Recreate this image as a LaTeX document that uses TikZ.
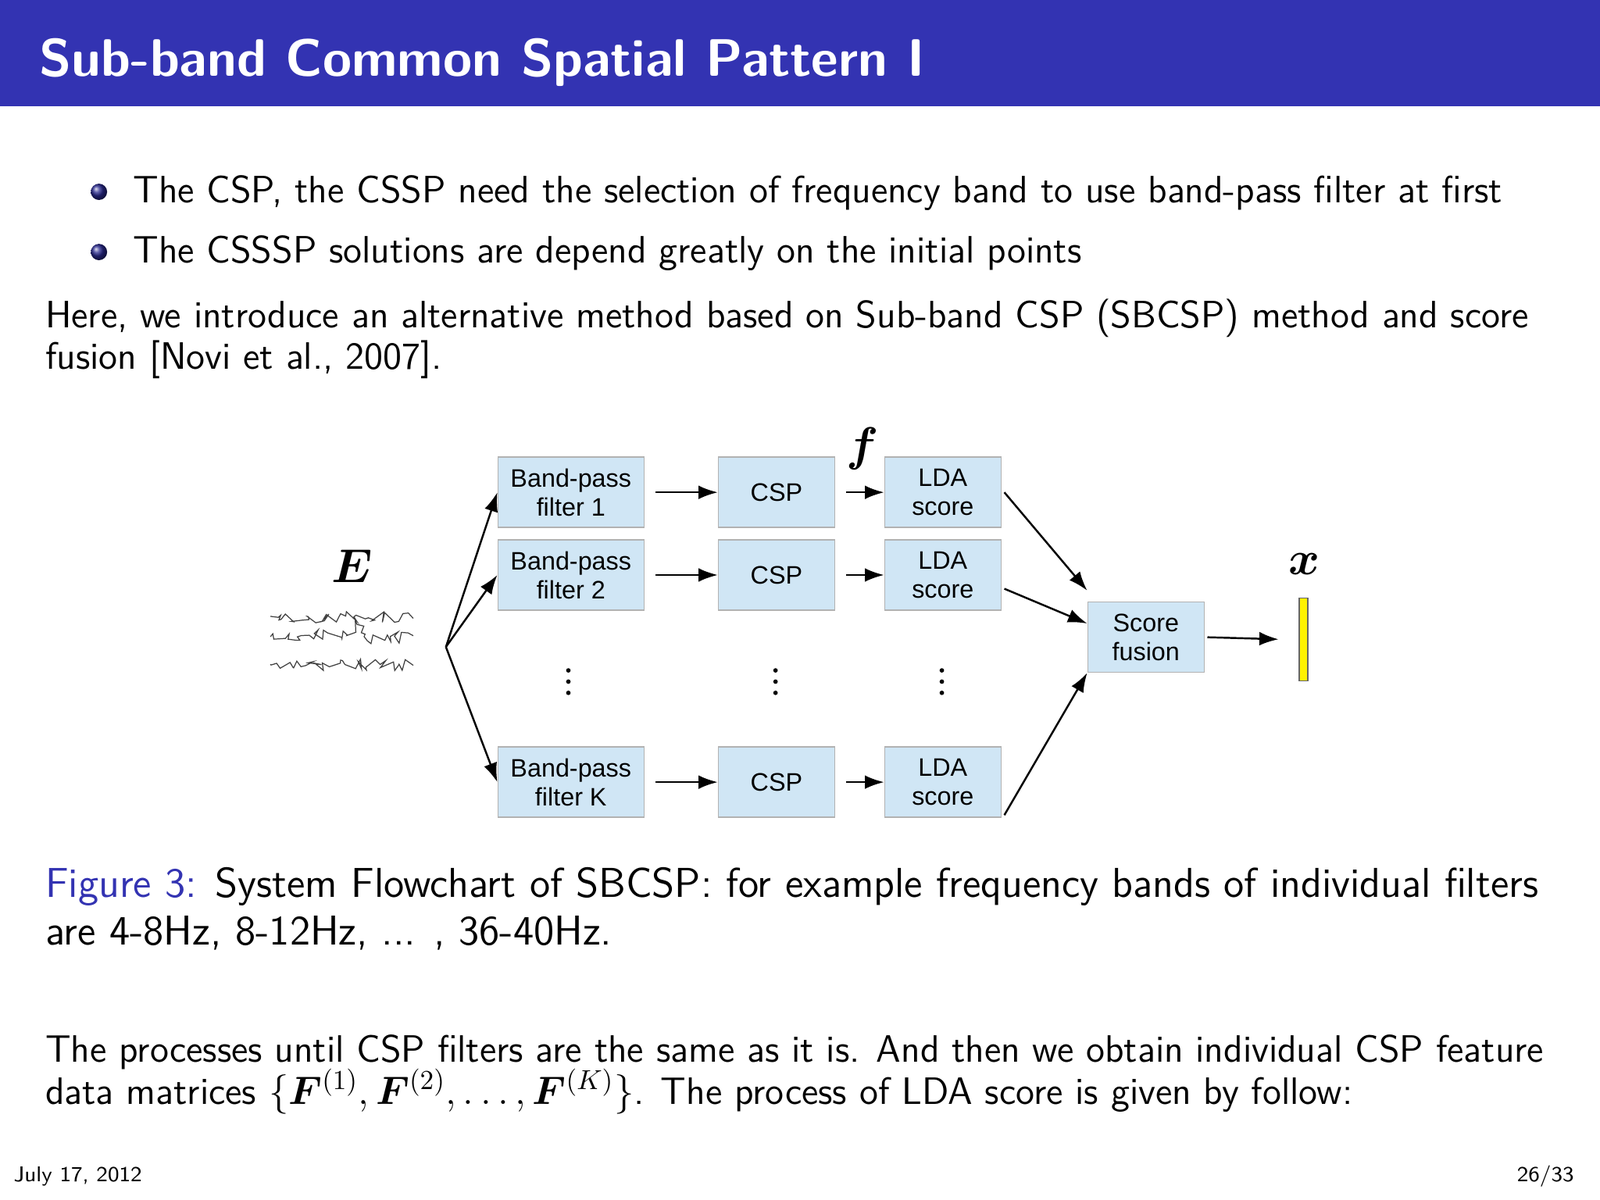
\documentclass[tikz,border=0pt]{standalone}
\usepackage{fontspec}
\usepackage{amsmath,bm}
\newfontfamily\arial{Liberation Sans}
\usetikzlibrary{arrows.meta,decorations.pathmorphing}
\definecolor{bbar}{RGB}{51,51,178}
\definecolor{boxfill}{RGB}{208,230,245}
\begin{document}
\begin{tikzpicture}[x=0.013061cm,y=-0.013061cm,
  box/.style={draw=black!30,fill=boxfill,minimum width=1.49cm,minimum height=0.9cm,inner sep=0pt,font=\arial\fontsize{9.2}{10.5}\selectfont,align=center},
  arr/.style={-{Latex[length=7pt,width=5pt]},line width=0.7pt},
  txt/.style={anchor=base west,inner sep=0pt,font=\sffamily\fontsize{13.9}{16}\selectfont},
  captxt/.style={anchor=base west,inner sep=0pt,font=\sffamily\fontsize{15.2}{17}\selectfont},
  wave/.style={decorate,decoration={random steps,segment length=1.4pt,amplitude=2.2pt},line width=0.35pt,black!75}]
\useasboundingbox (0,0) rectangle (1568,1176);
\fill[bbar] (0,0) rectangle (1568,104);
\node[anchor=base west,inner sep=0pt,text=white,font=\sffamily\bfseries\fontsize{19.2}{22}\selectfont] (title) at (38,75) {Sub-band Common Spatial Pattern I};
\shade[ball color=bbar!80!black] (97,188) circle (8);
\shade[ball color=bbar!80!black] (97,247) circle (8);
\node[txt] (b1) at (130,199) {The CSP, the CSSP need the selection of frequency band to use band-pass filter at first};
\node[txt] (b2) at (130,258) {The CSSSP solutions are depend greatly on the initial points};
\node[txt] (p1) at (44,321) {Here, we introduce an alternative method based on Sub-band CSP (SBCSP) method and score};
\node[txt] (p2) at (44,362) {fusion [Novi et al., 2007].};
% diagram
\node[box,minimum width=1.87cm] (bp1) at (559.5,482.5) {Band-pass\\filter 1};
\node[box,minimum width=1.87cm] (bp2) at (559.5,563.5) {Band-pass\\filter 2};
\node[box,minimum width=1.87cm] (bpk) at (559.5,766.5) {Band-pass\\filter K};
\node[box] (c1) at (761,482.5) {CSP};
\node[box] (c2) at (761,563.5) {CSP};
\node[box] (ck) at (761,766.5) {CSP};
\node[box] (l1) at (924,482.5) {LDA\\score};
\node[box] (l2) at (924,563.5) {LDA\\score};
\node[box] (lk) at (924,766.5) {LDA\\score};
\node[box] (sf) at (1123,624.5) {Score\\fusion};
\node[draw=black!60,fill=yellow,minimum width=0.11cm,minimum height=1.06cm,inner sep=0pt] (xb) at (1277.5,626.5) {};
\node[font=\fontsize{16}{18}\selectfont] (E) at (345,555) {$\bm{E}$};
\node[font=\fontsize{16}{18}\selectfont] (f) at (845,440) {$\bm{f}$};
\node[font=\fontsize{16}{18}\selectfont] (x) at (1278,553) {$\bm{x}$};
\foreach \xx in {557,760,923}
  \foreach \yy in {657,668,679} \fill (\xx,\yy) circle (2.2);
\coordinate (sp) at (437,634);
\draw[arr] (sp) -- (bp1.west);
\draw[arr] (sp) -- (bp2.west);
\draw[arr] (sp) -- (bpk.west);
\foreach \a/\b in {bp1/c1,bp2/c2,bpk/ck,c1/l1,c2/l2,ck/lk}
  \draw[arr] ([xshift=4pt]\a.east) -- (\b.west);
\draw[arr] ([xshift=1pt]l1.east) -- ([yshift=4pt]sf.north west);
\draw[arr] ([xshift=1pt,yshift=-5pt]l2.east) -- ([yshift=-8pt]sf.north west);
\draw[arr] ([xshift=1pt,yshift=-12pt]lk.east) -- (sf.south west);
\draw[arr] ([xshift=1pt]sf.east) -- (1253,626.5);
% waves
\draw[wave] (265,604) -- (405,606);
\draw[wave] (265,624) -- (340,622) -- (350,612) -- (360,628) -- (405,623);
\draw[wave] (265,651) -- (405,652);
% caption
\node[captxt] (c1t) at (44,879) {\textcolor{bbar}{Figure 3:} System Flowchart of SBCSP: for example frequency bands of individual filters};
\node[captxt] (c2t) at (44,926) {are 4-8Hz, 8-12Hz, ... , 36-40Hz.};
\node[txt] (q1) at (44,1041) {The processes until CSP filters are the same as it is. And then we obtain individual CSP feature};
\node[txt] (q2) at (44,1082) {data matrices $\{\bm{F}^{(1)},\bm{F}^{(2)},\ldots,\bm{F}^{(K)}\}$. The process of LDA score is given by follow:};
\node[anchor=base west,inner sep=0pt,font=\sffamily\fontsize{7.8}{9}\selectfont] (d) at (13,1158) {July 17, 2012};
\node[anchor=base east,inner sep=0pt,font=\sffamily\fontsize{7.8}{9}\selectfont] (pg) at (1543,1158) {26/33};
\end{tikzpicture}
\end{document}
